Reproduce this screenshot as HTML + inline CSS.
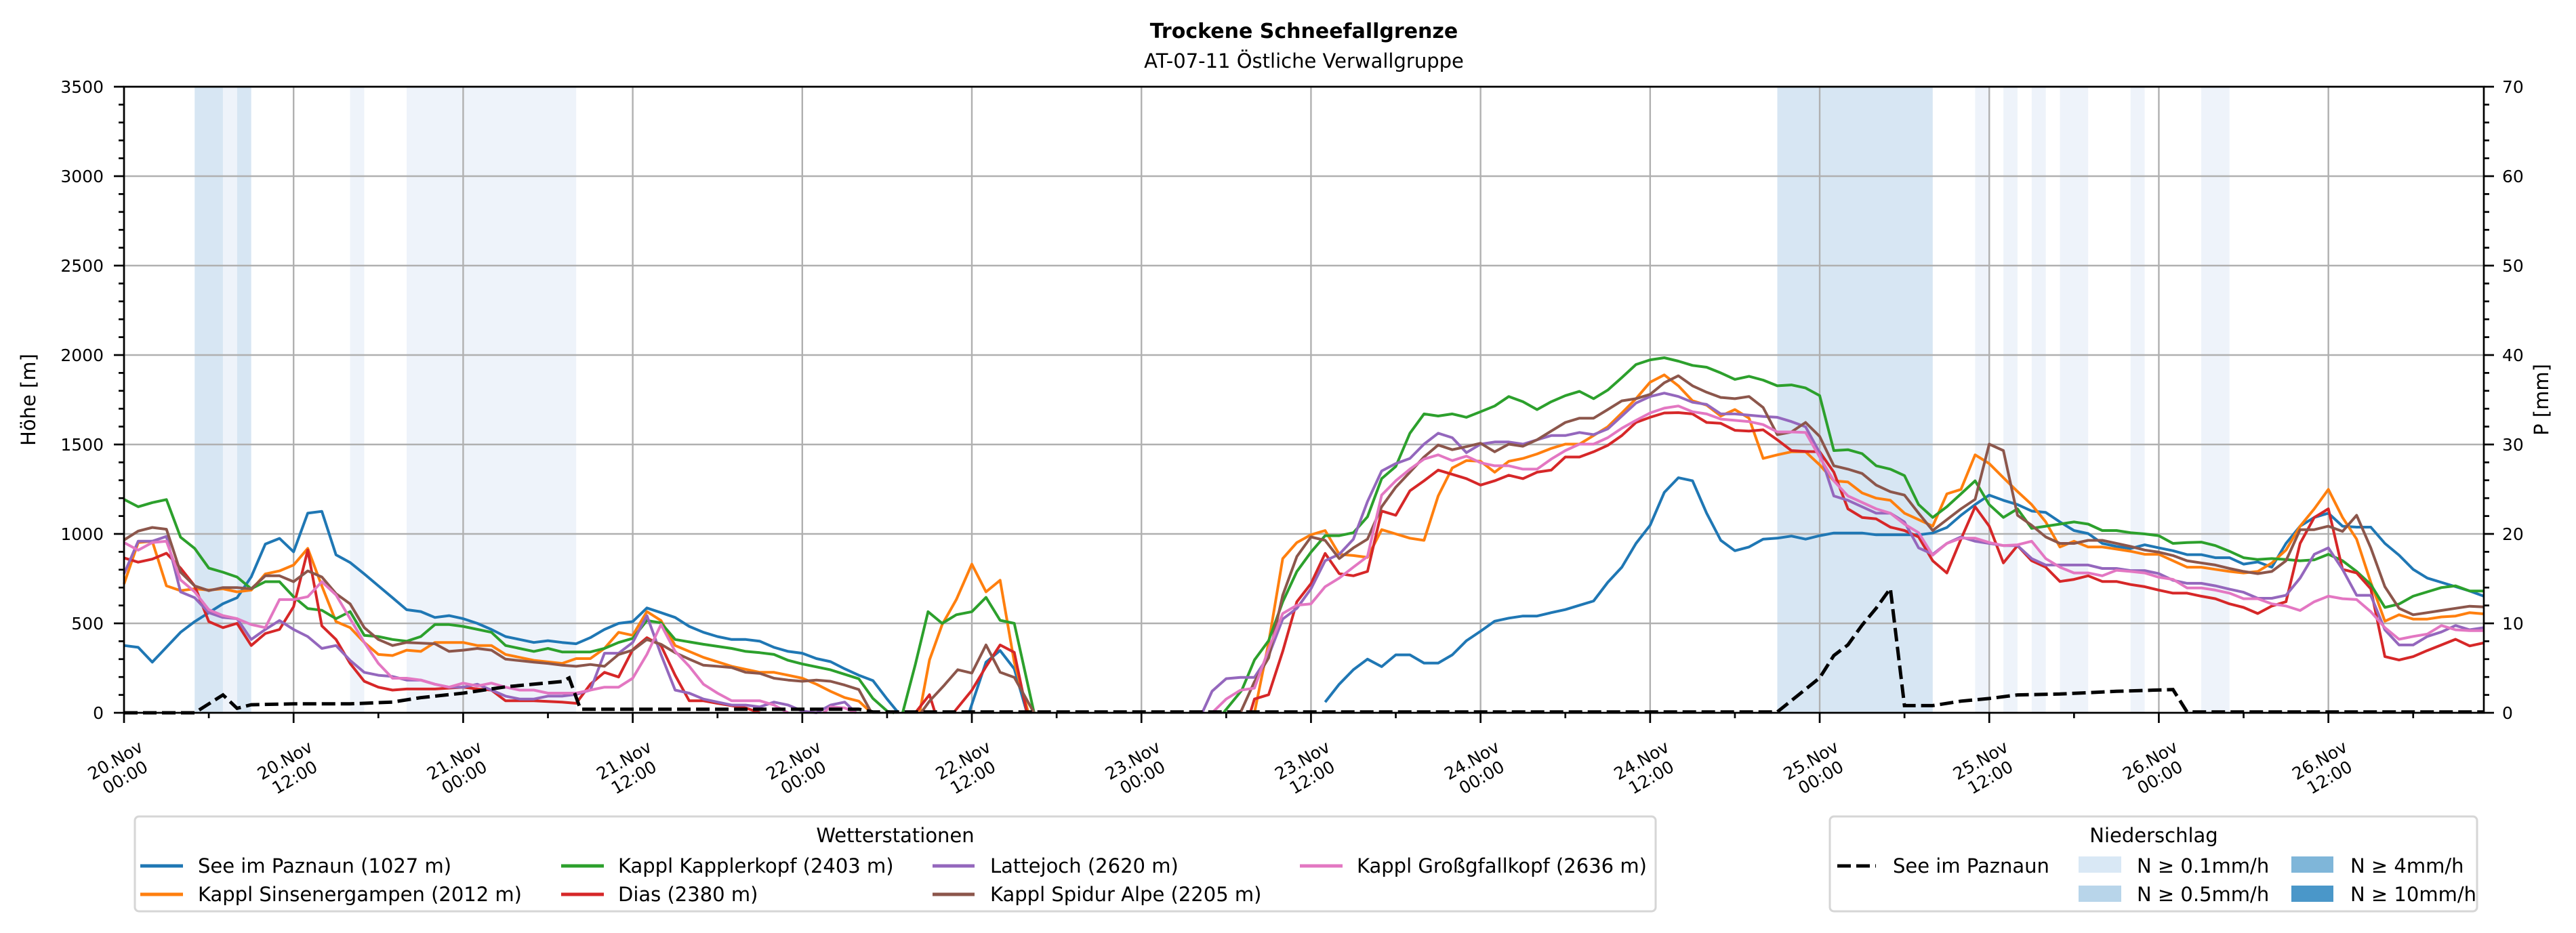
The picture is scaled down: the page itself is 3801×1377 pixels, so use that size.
<!DOCTYPE html>
<html><head><meta charset="utf-8">
<style>
html,body{margin:0;padding:0;background:#fff;}
svg{display:block;font-family:"DejaVu Sans","Liberation Sans",sans-serif;}
</style></head>
<body>
<svg id="chart" width="3801" height="1377" viewBox="0 0 3801 1377" xmlns="http://www.w3.org/2000/svg">
<rect x="0" y="0" width="3801" height="1377" fill="#fff"/>
<text x="1924" y="56" text-anchor="middle" font-size="30" font-weight="bold">Trockene Schneefallgrenze</text>
<text x="1924" y="100" text-anchor="middle" font-size="29">AT-07-11 Östliche Verwallgruppe</text>
<g id="bands"></g>
<g id="grid"></g>
<g id="series"></g>
<g id="axes"></g>
<!-- legend 1 -->
<g>
<rect x="199" y="1205" width="2244" height="140" rx="6" fill="#fff" stroke="#d6d6d6" stroke-width="3"/>
<text x="1321" y="1243" text-anchor="middle" font-size="29">Wetterstationen</text>
<g><line x1="207" y1="1278" x2="270" y2="1278" stroke="#1f77b4" stroke-width="5"/><text x="292" y="1288" font-size="29">See im Paznaun (1027 m)</text></g>
<g><line x1="207" y1="1320" x2="270" y2="1320" stroke="#ff7f0e" stroke-width="5"/><text x="292" y="1330" font-size="29">Kappl Sinsenergampen (2012 m)</text></g>
<g><line x1="828" y1="1278" x2="891" y2="1278" stroke="#2ca02c" stroke-width="5"/><text x="912" y="1288" font-size="29">Kappl Kapplerkopf (2403 m)</text></g>
<g><line x1="828" y1="1320" x2="891" y2="1320" stroke="#d62728" stroke-width="5"/><text x="912" y="1330" font-size="29">Dias (2380 m)</text></g>
<g><line x1="1376" y1="1278" x2="1438" y2="1278" stroke="#9467bd" stroke-width="5"/><text x="1461" y="1288" font-size="29">Lattejoch (2620 m)</text></g>
<g><line x1="1376" y1="1320" x2="1438" y2="1320" stroke="#8c564b" stroke-width="5"/><text x="1461" y="1330" font-size="29">Kappl Spidur Alpe (2205 m)</text></g>
<g><line x1="1918" y1="1278" x2="1981" y2="1278" stroke="#e377c2" stroke-width="5"/><text x="2002" y="1288" font-size="29">Kappl Großgfallkopf (2636 m)</text></g>
</g>
<!-- legend 2 -->
<g>
<rect x="2700" y="1205" width="955" height="140" rx="6" fill="#fff" stroke="#d6d6d6" stroke-width="3"/>
<text x="3178" y="1243" text-anchor="middle" font-size="29">Niederschlag</text>
<g><line x1="2711" y1="1278" x2="2768" y2="1278" stroke="#000" stroke-width="5" stroke-dasharray="20 8"/><text x="2793" y="1288" font-size="29">See im Paznaun</text></g>
<g><rect x="3067" y="1264" width="63" height="24" fill="#d9e8f5"/><text x="3153" y="1288" font-size="29">N ≥ 0.1mm/h</text></g>
<g><rect x="3067" y="1307" width="63" height="24" fill="#b8d5ea"/><text x="3153" y="1330" font-size="29">N ≥ 0.5mm/h</text></g>
<g><rect x="3381" y="1264" width="62" height="24" fill="#7fb6d9"/><text x="3468" y="1288" font-size="29">N ≥ 4mm/h</text></g>
<g><rect x="3381" y="1307" width="62" height="24" fill="#4a97c9"/><text x="3468" y="1330" font-size="29">N ≥ 10mm/h</text></g>
</g>
</svg>
<script>
// ---- data (hours since 20.Nov 00:00, metres / mm) ----
const xTickLabels = ["20.Nov|00:00","20.Nov|12:00","21.Nov|00:00","21.Nov|12:00","22.Nov|00:00","22.Nov|12:00","23.Nov|00:00","23.Nov|12:00","24.Nov|00:00","24.Nov|12:00","25.Nov|00:00","25.Nov|12:00","26.Nov|00:00","26.Nov|12:00"];
const yTicks = [0,500,1000,1500,2000,2500,3000,3500];
const pTicks = [0,10,20,30,40,50,60,70];
const bandStart = [5,7,8,16,20,117,131,133,135,137,142,147];
const bandEnd   = [7,8,9,17,32,128,132,134,136,139,143,149];
const bandLevel = [2,1,2,1,1,2,1,1,1,1,1,1];
const seeData = [[0,376],[1,366],[2,283],[4,450],[5,510],[7,610],[8,643],[9,760],[10,943],[11,975],[12,900],[13,1116],[14,1126],[15,883],[16,840],[17,776],[18,710],[19,643],[20,576],[21,566],[22,533],[23,543],[24,526],[25,500],[26,466],[27,426],[28,410],[29,393],[30,403],[31,393],[32,386],[33,420],[34,466],[35,500],[36,510],[37,586],[38,560],[39,533],[40,483],[41,450],[42,426],[43,410],[44,410],[45,400],[46,366],[47,343],[48,333],[49,303],[50,286],[51,246],[52,210],[53,180],[54,77],[54.8,0],null,[59.8,0],[61,283],[62,348],[63,246],[63.9,0],null,[85,60],[86,160],[87,241],[88,300],[89,258],[90,324],[91,324],[92,278],[93,278],[94,324],[95,403],[96,456],[97,512],[98,529],[99,541],[100,541],[101,560],[102,577],[103,601],[104,625],[105,729],[106,814],[107,947],[108,1048],[109,1232],[110,1314],[111,1297],[112,1116],[113,964],[114,906],[115,927],[116,971],[117,976],[118,988],[119,971],[120,990],[121,1005],[122,1005],[123,1005],[124,995],[125,995],[126,995],[127,995],[128,1005],[129,1036],[130,1104],[131,1164],[132,1217],[133,1188],[134,1164],[135,1128],[136,1120],[137,1067],[138,1019],[139,1002],[140,947],[141,930],[142,918],[143,939],[144,922],[145,906],[146,884],[147,884],[148,867],[149,867],[150,831],[151,843],[152,814],[153,947],[154,1043],[155,1092],[156,1116],[157,1043],[158,1038],[159,1038],[160,947],[161,881],[162,802],[163,753],[164,729],[165,705],[166,681],[167,652]];
const kapplerkopfData = [[0,1193],[1,1152],[2,1175],[3,1192],[4,982],[5,919],[6,809],[7,786],[8,759],[9,693],[10,733],[11,733],[12,649],[13,583],[14,573],[15,526],[16,566],[17,433],[18,426],[19,410],[20,400],[21,426],[22,493],[23,493],[24,483],[26,450],[27,376],[29,343],[30,360],[31,340],[33,340],[34,360],[35,393],[36,416],[37,516],[38,503],[39,410],[41,383],[43,360],[44,343],[45,336],[46,326],[47,293],[48,273],[50,240],[51,215],[52,190],[53,80],[54,10],[54.5,0],null,[55.1,0],[56,270],[56.9,565],[57.9,500],[58.9,548],[60,565],[61,645],[62,517],[63,500],[64.4,0],null,[77.8,0],[79.1,126],[80,295],[81,403],[82,620],[83,790],[84,898],[85,990],[86,990],[87,1007],[88,1096],[89,1309],[90,1377],[91,1563],[92,1671],[93,1659],[94,1671],[95,1652],[96,1683],[97,1715],[98,1768],[99,1739],[100,1695],[101,1739],[102,1773],[103,1797],[104,1756],[105,1804],[106,1874],[107,1947],[108,1973],[109,1985],[110,1966],[111,1942],[112,1932],[113,1900],[114,1864],[115,1881],[116,1860],[117,1828],[118,1833],[119,1816],[120,1773],[121,1466],[122,1471],[123,1449],[124,1381],[125,1362],[126,1326],[127,1164],[128,1092],[129,1152],[130,1224],[131,1297],[132,1164],[133,1092],[134,1140],[135,1031],[136,1043],[137,1055],[138,1067],[139,1055],[140,1019],[141,1019],[142,1007],[143,1000],[144,990],[145,947],[146,952],[147,954],[148,935],[149,903],[150,867],[151,857],[152,862],[153,857],[154,850],[155,855],[156,886],[157,850],[158,790],[159,717],[160,589],[161,608],[162,652],[163,676],[164,700],[165,710],[166,681],[167,681]];
const sinsenData = [[0,720],[1,952],[2,959],[3,710],[4,683],[5,693],[6,686],[7,693],[8,676],[9,686],[10,776],[11,793],[12,826],[13,919],[14,709],[15,510],[16,476],[17,393],[18,326],[19,320],[20,350],[21,343],[22,393],[24,393],[25,376],[26,376],[27,326],[29,293],[31,276],[32,303],[33,303],[34,360],[35,450],[36,433],[37,566],[38,516],[39,376],[41,310],[43,260],[45,226],[46,226],[47,210],[48,193],[49,160],[50,120],[51,85],[52,65],[52.9,0],null,[56.3,0],[57,295],[57.9,493],[58.9,633],[60,831],[61,676],[62,741],[63,283],[64,0],null,[80,0],[81,391],[82,862],[83,952],[84,995],[85,1019],[86,886],[87,879],[88,869],[89,1024],[90,1000],[91,976],[92,964],[93,1212],[94,1369],[95,1410],[96,1406],[97,1345],[98,1406],[99,1422],[100,1447],[101,1478],[102,1502],[103,1502],[104,1550],[105,1599],[106,1676],[107,1756],[108,1848],[109,1889],[110,1828],[111,1744],[112,1720],[113,1659],[114,1695],[115,1647],[116,1422],[117,1442],[118,1459],[119,1459],[120,1386],[121,1297],[122,1290],[123,1229],[124,1200],[125,1188],[126,1116],[127,1080],[128,1043],[129,1224],[130,1249],[131,1442],[132,1393],[133,1314],[134,1237],[135,1164],[136,1067],[137,927],[138,959],[139,927],[140,927],[141,915],[142,903],[143,886],[144,886],[145,850],[146,814],[147,814],[148,802],[149,790],[150,782],[151,790],[152,838],[153,910],[154,1043],[155,1140],[156,1249],[157,1092],[158,971],[159,729],[160,512],[161,548],[162,524],[163,524],[164,536],[165,541],[166,560],[167,553]];
const diasData = [[0,866],[1,842],[2,859],[3,892],[4,809],[5,709],[6,510],[7,476],[8,500],[9,376],[10,443],[11,466],[12,593],[13,909],[14,486],[15,410],[16,276],[17,176],[18,143],[19,127],[20,133],[22,133],[24,143],[25,133],[26,127],[27,67],[29,67],[31,60],[32,53],[33,160],[34,226],[35,200],[36,353],[37,420],[38,376],[39,210],[40,67],[41,67],[42,53],[44,27],[45,0],null,[56,0],[57,101],[57.4,0],null,[58.7,0],[60,126],[61,258],[62,379],[63,338],[63.9,0],null,[79.7,0],[80,77],[81,101],[82,343],[83,621],[84,722],[85,891],[86,778],[87,766],[88,790],[89,1128],[90,1104],[91,1241],[92,1297],[93,1357],[94,1333],[95,1309],[96,1273],[97,1297],[98,1328],[99,1309],[100,1345],[101,1357],[102,1430],[103,1430],[104,1459],[105,1495],[106,1550],[107,1623],[108,1652],[109,1676],[110,1678],[111,1671],[112,1623],[113,1618],[114,1579],[115,1575],[116,1582],[117,1526],[118,1466],[119,1461],[120,1459],[121,1345],[122,1140],[123,1092],[124,1084],[125,1038],[126,1019],[127,983],[128,850],[129,782],[130,971],[131,1152],[132,1043],[133,838],[134,935],[135,850],[136,814],[137,734],[138,746],[139,766],[140,734],[141,734],[142,717],[143,705],[144,686],[145,669],[146,669],[147,652],[148,638],[149,609],[150,589],[151,555],[152,597],[153,621],[154,947],[155,1092],[156,1140],[157,802],[158,782],[159,693],[160,314],[161,295],[162,314],[163,348],[164,379],[165,411],[166,374],[167,391]];
const lattejochData = [[0,776],[1,959],[2,959],[3,986],[4,676],[5,643],[6,560],[7,533],[8,526],[9,410],[10,466],[11,516],[12,466],[13,426],[14,360],[15,376],[16,293],[17,226],[18,210],[19,203],[20,183],[21,183],[22,160],[23,143],[24,143],[25,160],[26,127],[27,93],[28,77],[29,77],[30,93],[31,93],[32,103],[33,127],[34,333],[35,333],[36,393],[37,543],[38,326],[39,127],[40,110],[41,77],[42,60],[43,43],[44,43],[45,33],[46,60],[47,43],[48,10],[49,0],[50,43],[51,60],[51.8,0],null,[76.3,0],[77,121],[78,191],[79,198],[80,198],[81,319],[82,524],[83,584],[84,693],[85,850],[86,886],[87,971],[88,1181],[89,1352],[90,1393],[91,1422],[92,1502],[93,1563],[94,1538],[95,1454],[96,1502],[97,1514],[98,1514],[99,1502],[100,1526],[101,1550],[102,1550],[103,1567],[104,1555],[105,1587],[106,1659],[107,1732],[108,1768],[109,1787],[110,1768],[111,1736],[112,1724],[113,1671],[114,1671],[115,1664],[116,1657],[117,1652],[118,1628],[119,1599],[120,1454],[121,1212],[122,1188],[123,1152],[124,1116],[125,1116],[126,1067],[127,922],[128,886],[129,947],[130,983],[131,959],[132,947],[133,935],[134,935],[135,862],[136,826],[137,826],[138,826],[139,826],[140,807],[141,807],[142,795],[143,795],[144,778],[145,741],[146,724],[147,724],[148,710],[149,691],[150,674],[151,640],[152,640],[153,657],[154,753],[155,886],[156,922],[157,802],[158,657],[159,657],[160,464],[161,379],[162,379],[163,427],[164,452],[165,488],[166,464],[167,476]];
const spidurData = [[0,966],[1,1016],[2,1036],[3,1026],[4,786],[5,709],[6,683],[7,700],[8,700],[9,693],[10,766],[11,766],[12,733],[13,793],[14,759],[15,666],[16,609],[17,476],[18,410],[19,376],[20,393],[22,386],[23,343],[24,350],[25,360],[26,350],[27,300],[29,283],[30,276],[31,266],[32,260],[33,270],[34,260],[35,326],[36,350],[37,410],[38,383],[39,336],[40,300],[41,266],[42,260],[43,253],[44,226],[45,220],[46,193],[47,183],[48,176],[49,183],[50,176],[51,155],[52,130],[52.9,0],null,[56.4,0],[57,65],[58,150],[59,241],[60,222],[61,379],[62,227],[63,198],[64.4,0],null,[79,0],[80,174],[81,307],[82,657],[83,874],[84,983],[85,964],[86,862],[87,922],[88,971],[89,1152],[90,1261],[91,1345],[92,1430],[93,1497],[94,1471],[95,1488],[96,1507],[97,1459],[98,1502],[99,1490],[100,1526],[101,1575],[102,1623],[103,1647],[104,1647],[105,1695],[106,1744],[107,1756],[108,1780],[109,1845],[110,1884],[111,1828],[112,1792],[113,1763],[114,1756],[115,1768],[116,1707],[117,1555],[118,1570],[119,1623],[120,1545],[121,1381],[122,1362],[123,1338],[124,1273],[125,1236],[126,1217],[127,1116],[128,1019],[129,1080],[130,1140],[131,1193],[132,1502],[133,1466],[134,1104],[135,1048],[136,983],[137,947],[138,947],[139,964],[140,964],[141,947],[142,930],[143,910],[144,898],[145,879],[146,850],[147,838],[148,826],[149,807],[150,790],[151,778],[152,790],[153,850],[154,1024],[155,1024],[156,1043],[157,1014],[158,1104],[159,922],[160,705],[161,584],[162,548],[163,560],[164,572],[165,584],[166,596],[167,592]];
const grossgfallData = [[0,952],[1,909],[2,952],[3,959],[4,743],[5,676],[6,576],[7,543],[8,526],[9,493],[10,476],[11,633],[12,633],[13,649],[14,733],[15,659],[16,526],[17,393],[18,276],[19,193],[20,193],[21,183],[22,160],[23,143],[24,166],[25,150],[26,166],[27,143],[28,127],[29,127],[30,110],[31,110],[32,110],[33,127],[34,143],[35,143],[36,193],[37,326],[38,493],[39,343],[40,260],[41,160],[42,110],[43,67],[44,67],[45,67],[46,43],[47,0],null,[49.5,0],[50,33],[51,27],[51.8,0],null,[77,0],[78,77],[79,126],[80,138],[81,355],[82,555],[83,601],[84,609],[85,705],[86,753],[87,814],[88,874],[89,1217],[90,1297],[91,1362],[92,1418],[93,1442],[94,1410],[95,1435],[96,1398],[97,1381],[98,1381],[99,1362],[100,1362],[101,1418],[102,1466],[103,1502],[104,1502],[105,1538],[106,1591],[107,1635],[108,1676],[109,1703],[110,1715],[111,1683],[112,1671],[113,1642],[114,1635],[115,1628],[116,1611],[117,1570],[118,1570],[119,1567],[120,1430],[121,1297],[122,1212],[123,1176],[124,1140],[125,1116],[126,1055],[127,1007],[128,881],[129,947],[130,976],[131,976],[132,952],[133,935],[134,939],[135,959],[136,862],[137,814],[138,782],[139,782],[140,766],[141,797],[142,790],[143,782],[144,758],[145,746],[146,698],[147,698],[148,686],[149,669],[150,638],[151,638],[152,609],[153,597],[154,572],[155,621],[156,652],[157,638],[158,633],[159,565],[160,476],[161,411],[162,427],[163,440],[164,488],[165,464],[166,459],[167,459]];
const precipData = [[0,0],[5,0],[7,2.0],[8,0.5],[9,0.9],[12,1.0],[16,1.0],[19,1.2],[21,1.7],[24,2.2],[27,2.9],[31,3.5],[31.5,3.9],[32.3,0.4],[52,0.4],[53,0.1],[117,0.1],[120,3.9],[121,6.4],[122,7.6],[123,9.8],[124,11.7],[125,13.9],[126,0.8],[128,0.8],[130,1.3],[132,1.6],[134,2.0],[137,2.1],[141,2.4],[145,2.6],[146,0.1],[167,0.1]];

// ---- layout ----
const L=183,R=3665,T=128,B=1052,HMAX=167;
const xS=h=>L+(R-L)*h/HMAX;
const yS=v=>B-(B-T)*v/3500;
const pS=v=>B-(B-T)*v/70;
const NS="http://www.w3.org/2000/svg";
function mk(tag,attrs,parent){const e=document.createElementNS(NS,tag);for(const k in attrs)e.setAttribute(k,attrs[k]);parent.appendChild(e);return e;}
const gB=document.getElementById('bands'),gG=document.getElementById('grid'),gS=document.getElementById('series'),gA=document.getElementById('axes');

// bands
const bandColors=['','#eef3fa','#d7e6f3'];
bandStart.forEach((s,i)=>{
  const r=mk('rect',{x:xS(s),y:T,width:xS(bandEnd[i])-xS(s),height:B-T,fill:bandColors[bandLevel[i]]},gB);
  
  
});
// grid
xTickLabels.forEach((lab,i)=>{
  const x=xS(i*12);
  const l=mk('line',{x1:x,y1:T,x2:x,y2:B,stroke:'#b0b0b0','stroke-width':2.4},gG);
  
  
});
yTicks.forEach(v=>{
  const l=mk('line',{x1:L,y1:yS(v),x2:R,y2:yS(v),stroke:'#b0b0b0','stroke-width':2.4},gG);
  
  
});
// series
function pathOf(data,ys){let d='',pen=false;data.forEach(p=>{if(p===null){pen=false;return;}d+=(pen?'L':'M')+xS(p[0]).toFixed(1)+','+ys(p[1]).toFixed(1);pen=true;});return d;}
const seriesList=[[seeData,'#1f77b4','line-see-im-paznaun'],[sinsenData,'#ff7f0e','line-sinsenergampen'],[kapplerkopfData,'#2ca02c','line-kapplerkopf'],[diasData,'#d62728','line-dias'],[lattejochData,'#9467bd','line-lattejoch'],[spidurData,'#8c564b','line-spidur-alpe'],[grossgfallData,'#e377c2','line-grossgfallkopf']];
seriesList.forEach(s=>{
  const p=mk('path',{d:pathOf(s[0],yS),fill:'none',stroke:s[1],'stroke-width':4,'stroke-linejoin':'round'},gS);
  
  
});
const pp=mk('path',{d:pathOf(precipData,pS),fill:'none',stroke:'#000','stroke-width':5,'stroke-dasharray':'20 8'},gS);



// axes frame
const fr=mk('rect',{x:L,y:T,width:R-L,height:B-T,fill:'none',stroke:'#000','stroke-width':2.7},gA);


// x ticks
for(let h=0;h<=HMAX;h+=6){
  const major=h%12===0;
  const t=mk('line',{x1:xS(h),y1:B,x2:xS(h),y2:B+(major?15:8),stroke:'#000','stroke-width':2.7},gA);
  
  
}
xTickLabels.forEach((lab,i)=>{
  const x=xS(i*12)-6,y=B+82;
  const parts=lab.split('|');
  const tx=mk('text',{x:x,y:y,'text-anchor':'middle','font-size':25,transform:'rotate(-30 '+x+' '+y+')'},gA);
  
  
  const a=mk('tspan',{x:x,dy:-5},tx);a.textContent=parts[0];
  const b=mk('tspan',{x:x,dy:29},tx);b.textContent=parts[1];
});
// y left ticks
for(let v=0;v<=3500;v+=100){
  const major=v%500===0;
  const t=mk('line',{x1:L,y1:yS(v),x2:L-(major?15:8),y2:yS(v),stroke:'#000','stroke-width':2.7},gA);
  
  
}
yTicks.forEach(v=>{
  const t=mk('text',{x:153,y:yS(v)+9,'text-anchor':'end','font-size':25},gA);
  t.textContent=v;
  
  
});
// right ticks
for(let v=0;v<=70;v+=2){
  const major=v%10===0;
  const t=mk('line',{x1:R,y1:pS(v),x2:R+(major?15:8),y2:pS(v),stroke:'#000','stroke-width':2.7},gA);
  
  
}
pTicks.forEach(v=>{
  const t=mk('text',{x:3692,y:pS(v)+9,'text-anchor':'start','font-size':25},gA);
  t.textContent=v;
  
  
});
const yl=mk('text',{x:52,y:(T+B)/2,'text-anchor':'middle','font-size':29,transform:'rotate(-90 52 '+((T+B)/2)+')'},gA);
yl.textContent='Höhe [m]';


const pl=mk('text',{x:3760,y:(T+B)/2,'text-anchor':'middle','font-size':29,transform:'rotate(-90 3760 '+((T+B)/2)+')'},gA);
pl.textContent='P [mm]';


</script>
</body></html>
